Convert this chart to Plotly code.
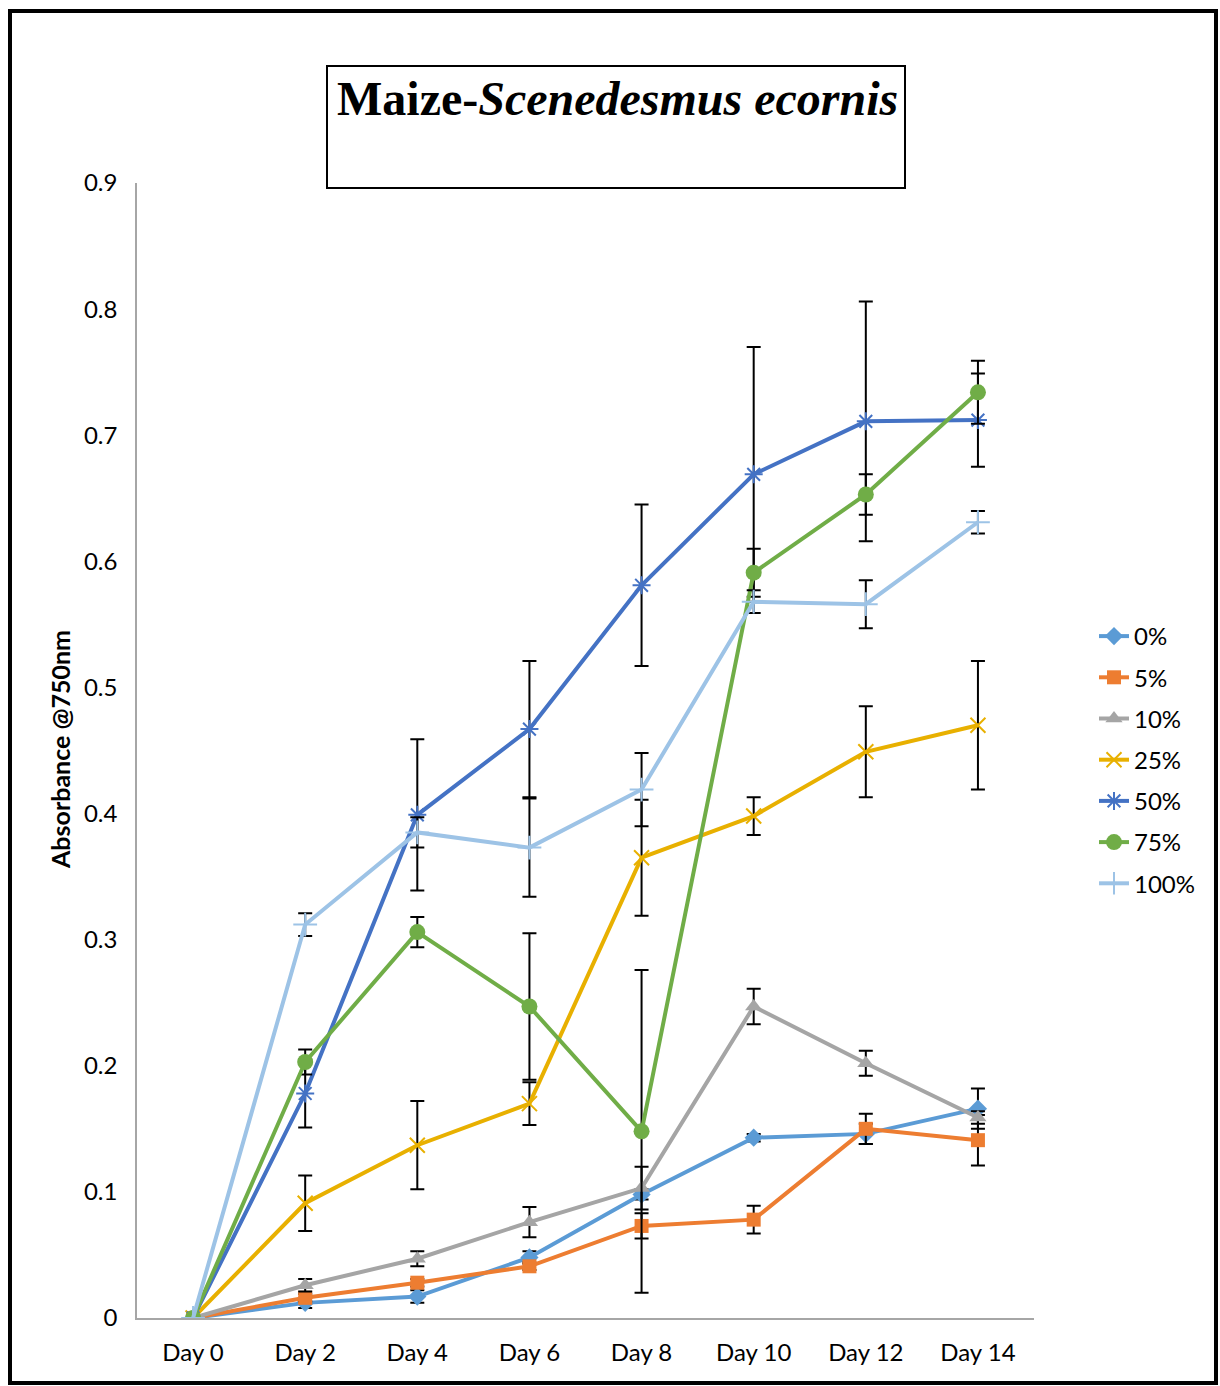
import plotly.graph_objects as go

days = ["Day 0", "Day 2", "Day 4", "Day 6", "Day 8", "Day 10", "Day 12", "Day 14"]

s0 = [0, 0.012, 0.017, 0.048, 0.098, 0.143, 0.146, 0.166]
e0 = [0, 0.004, 0.005, 0.005, 0.004, 0.003, 0.008, 0.016]

s5 = [0, 0.016, 0.028, 0.041, 0.073, 0.078, 0.150, 0.141]
e5 = [0, 0.003, 0.003, 0.003, 0.010, 0.011, 0.012, 0.020]

s10 = [0, 0.026, 0.047, 0.076, 0.103, 0.247, 0.202, 0.159]
e10 = [0, 0.005, 0.006, 0.012, 0.017, 0.014, 0.010, 0.005]

s25 = [0, 0.091, 0.137, 0.170, 0.365, 0.398, 0.449, 0.470]
e25 = [0, 0.022, 0.035, 0.017, 0.046, 0.015, 0.036, 0.051]

s50 = [0, 0.178, 0.399, 0.467, 0.581, 0.669, 0.711, 0.712]
e50 = [0, 0.027, 0.060, 0.054, 0.064, 0.101, 0.095, 0.037]

s75 = [0, 0.203, 0.306, 0.247, 0.148, 0.591, 0.653, 0.734]
e75 = [0, 0.010, 0.012, 0.058, 0.128, 0.019, 0.016, 0.025]

s100 = [0, 0.312, 0.385, 0.373, 0.419, 0.568, 0.566, 0.631]
e100 = [0, 0.009, 0.012, 0.039, 0.029, 0.009, 0.019, 0.009]

series_names = ["0%", "5%", "10%", "25%", "50%", "75%", "100%"]
series_vals = [s0, s5, s10, s25, s50, s75, s100]
series_errs = [e0, e5, e10, e25, e50, e75, e100]
colors = ["#5B9BD5", "#ED7D31", "#A5A5A5", "#E8B000", "#4472C4", "#70AD47", "#9DC3E6"]
symbols = ["diamond", "square", "triangle-up", "x-thin-open", "asterisk-open", "circle", "cross-thin-open"]
msizes = [14, 14, 15, 15, 15, 16, 17]

W, H = 1220, 1386
L, R, T, B = 137, 1034, 183, 1318
pw, ph = R - L, B - T

def px(x):
    return (x - L) / pw

def py(y):
    return (B - y) / ph

fig = go.Figure()
for i, name in enumerate(series_names):
    sym = symbols[i]
    open_sym = sym.endswith("open")
    fig.add_trace(go.Scatter(
        x=days, y=series_vals[i], name=name, mode="lines+markers",
        legendgroup=name,
        line=dict(color=colors[i], width=4),
        marker=dict(symbol=sym, size=msizes[i], color=colors[i],
                    line=dict(color=colors[i], width=2 if open_sym else 0)),
        error_y=dict(type="data", array=series_errs[i], visible=True,
                     color="black", thickness=2, width=7),
    ))

font_main = "Lato, 'Noto Sans', sans-serif"

fig.update_layout(
    width=W, height=H, autosize=False,
    margin=dict(l=L, r=W - R, t=T, b=H - B, pad=0),
    paper_bgcolor="white", plot_bgcolor="white",
    showlegend=True,
    legend=dict(x=px(1094), y=py(760), xanchor="left", yanchor="middle",
                font=dict(family=font_main, size=24, color="black"),
                traceorder="grouped", tracegroupgap=7,
                bgcolor="rgba(0,0,0,0)"),
    xaxis=dict(type="category", categoryorder="array", categoryarray=days,
               range=[-0.5, 7.5], showgrid=False, zeroline=False,
               showline=True, linecolor="#A6A6A6", linewidth=2,
               ticks="outside", ticklen=12, tickcolor="rgba(0,0,0,0)",
               tickfont=dict(family=font_main, size=24, color="black")),
    yaxis=dict(range=[0, 0.9], tickvals=[0, 0.1, 0.2, 0.3, 0.4, 0.5, 0.6, 0.7, 0.8, 0.9],
               ticktext=["0", "0.1", "0.2", "0.3", "0.4", "0.5", "0.6", "0.7", "0.8", "0.9"],
               showgrid=False, zeroline=False,
               showline=True, linecolor="#A6A6A6", linewidth=1.5,
               ticks="outside", ticklen=13, tickcolor="rgba(0,0,0,0)",
               tickfont=dict(family=font_main, size=24, color="black")),
    shapes=[
        dict(type="rect", xref="paper", yref="paper",
             x0=px(10), x1=px(1216), y0=py(11), y1=py(1383),
             line=dict(color="black", width=4), fillcolor="rgba(0,0,0,0)", layer="above"),
        dict(type="rect", xref="paper", yref="paper",
             x0=px(327), x1=px(905), y0=py(66), y1=py(188),
             line=dict(color="black", width=2), fillcolor="rgba(0,0,0,0)"),
    ],
    annotations=[
        dict(text="<b>Maize-<i>Scenedesmus ecornis</i></b>", xref="paper", yref="paper",
             x=px(617), y=py(99), xanchor="center", yanchor="middle", showarrow=False,
             font=dict(family="'Liberation Serif', 'DejaVu Serif', serif", size=48, color="black")),
        dict(text="<b>Absorbance @750nm</b>", xref="paper", yref="paper",
             x=px(60), y=py(750), xanchor="center", yanchor="middle", showarrow=False,
             textangle=-90,
             font=dict(family=font_main, size=25, color="black")),
    ],
)

fig.write_html("out.html", config={"displayModeBar": False},
               post_script="document.body.style.margin='0px';")
